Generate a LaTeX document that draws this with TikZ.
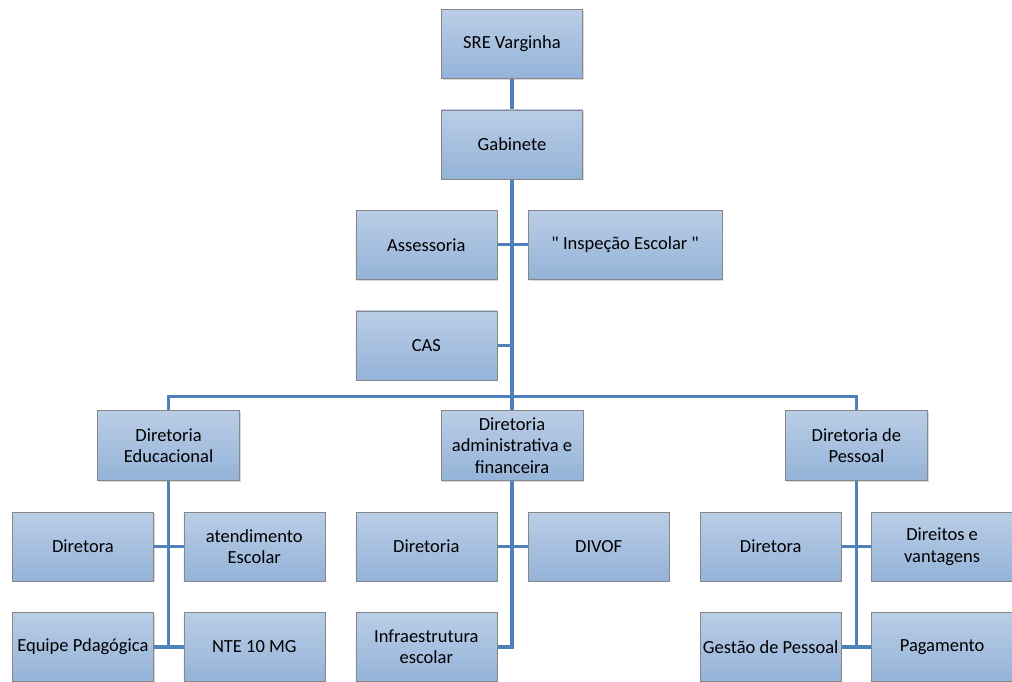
\documentclass[tikz,border=0pt]{standalone}
\usepackage{fontspec}
\setmainfont{Carlito}
\usetikzlibrary{positioning,backgrounds,shadows}
\definecolor{linha}{RGB}{79,129,189}
\definecolor{topo}{RGB}{186,205,230}
\definecolor{base}{RGB}{148,179,216}
\definecolor{borda}{RGB}{135,135,135}
\tikzstyle{caixa}=[rectangle,draw=borda,top color=topo,bottom color=base,minimum width=141,minimum height=69,inner sep=2,align=center,font=\fontsize{18.5}{21.5}\selectfont,drop shadow={shadow xshift=1.2,shadow yshift=-1.2,opacity=.3}]
\tikzstyle{larga}=[caixa,minimum width=194]
\tikzstyle{ligacao}=[draw=linha,line width=3.2]

\begin{document}
\begin{tikzpicture}[x=1pt,y=1pt]
	\useasboundingbox (0,0) rectangle (1012,-682);
	\begin{scope}[node distance=31]
		\node[caixa]	(sre)	at (512,-44)	{SRE Varginha};
		\node[caixa]	(gabinete)	[below=of sre]	{Gabinete};
		\node[caixa]	(assessoria)	[below left=31 and 15 of gabinete.south]	{Assessoria};
		\node[larga]	(inspecao)	[below right=31 and 16 of gabinete.south]	{\textquotedbl{} Inspeção Escolar \textquotedbl};
		\node[caixa]	(cas)	[below=of assessoria]	{CAS};
		\coordinate (barra) at ([yshift=-16.5]cas.south -| gabinete.south);
		
		\node[caixa,minimum width=142,minimum height=70]	(dadm)	[below=14 of barra]	{Diretoria\\administrativa e\\financeira};
		\node[caixa,minimum width=142,minimum height=70]	(deduc)	[left=201 of dadm]	{Diretoria\\Educacional};
		\node[caixa,minimum width=142,minimum height=70]	(dpess)	[right=202 of dadm]	{Diretoria de\\Pessoal};
		
		\node[caixa]	(diretora1)	[below left=31 and 15 of deduc.south]	{Diretora};
		\node[caixa]	(atendimento)	[below right=31 and 15 of deduc.south]	{atendimento\\Escolar};
		\node[caixa]	(equipe)	[below=of diretora1]	{Equipe Pdagógica};
		\node[caixa]	(nte)	[below=of atendimento]	{NTE 10 MG};
		
		\node[caixa]	(diretoria2)	[below left=31 and 15 of dadm.south]	{Diretoria};
		\node[caixa]	(divof)	[below right=31 and 16 of dadm.south]	{DIVOF};
		\node[caixa]	(infra)	[below=of diretoria2]	{Infraestrutura\\escolar};
		
		\node[caixa]	(diretora3)	[below left=31 and 15 of dpess.south]	{Diretora};
		\node[caixa]	(direitos)	[below right=31 and 15 of dpess.south]	{Direitos e\\vantagens};
		\node[caixa]	(gestao)	[below=of diretora3]	{Gestão de Pessoal};
		\node[caixa]	(pagamento)	[below=of direitos]	{Pagamento};
	\end{scope}
	\begin{scope}[on background layer]
		\draw[ligacao] (sre) -- (gabinete);
		\draw[ligacao] (gabinete) -- (barra);
		\draw[ligacao] (assessoria) -- (inspecao);
		\draw[ligacao] (cas) -- (cas -| barra);
		\draw[ligacao] (deduc.north) |- (barra) -| (dpess.north);
		\draw[ligacao] (barra) -- (dadm);
		
		\draw[ligacao] (deduc.south) -- (deduc.south |- equipe.east);
		\draw[ligacao] (diretora1) -- (atendimento);
		\draw[ligacao] (equipe) -- (nte);
		
		\draw[ligacao] (dadm.south) |- (infra.east);
		\draw[ligacao] (diretoria2) -- (divof);
		
		\draw[ligacao] (dpess.south) -- (dpess.south |- gestao.east);
		\draw[ligacao] (diretora3) -- (direitos);
		\draw[ligacao] (gestao) -- (pagamento);
	\end{scope}
\end{tikzpicture}
\end{document}
